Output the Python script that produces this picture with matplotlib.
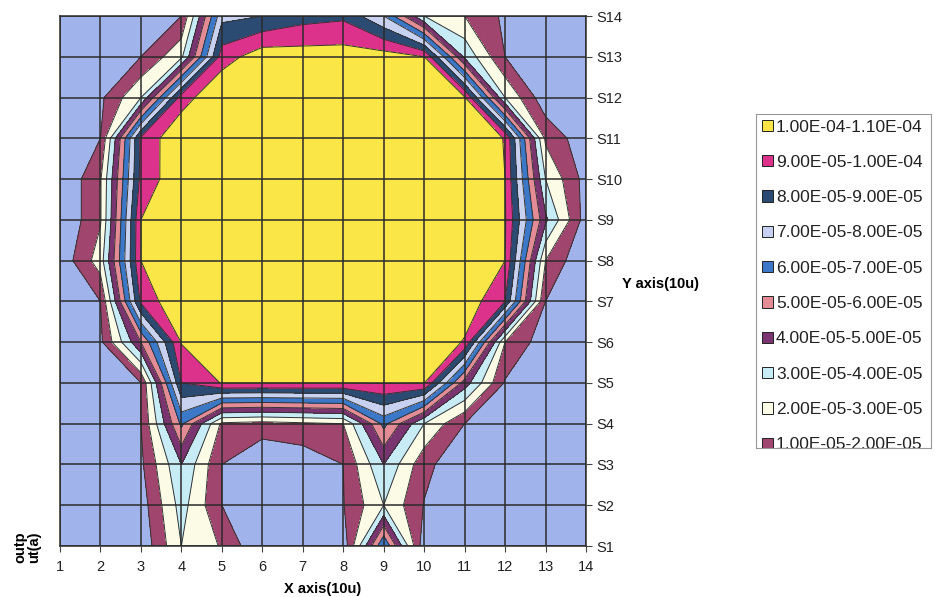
import numpy as np
import matplotlib
matplotlib.use("Agg")
import matplotlib.pyplot as plt
from matplotlib.patches import Patch

plt.rcParams['font.family'] = ['Liberation Sans', 'DejaVu Sans']

# grid positions (x axis 1..14) and series names (S1..S14)
x_vals = list(range(1, 15))
series = ['S%d' % i for i in range(1, 15)]

# output(a) values, in units of 1e-5, one list per series
s1 = [0, 0, 0.25, 3.0, 1.9, 0, 0, 0.3, 7.0, 0.3, 0, 0, 0, 0]
s2 = [0, 0, 0.5, 3.4, 1.0, 0, 0, 0.95, 3.0, 0.95, 0, 0, 0, 0]
s3 = [0, 0, 0.8, 4.0, 1.0, 0, 0.3, 1.0, 4.0, 1.3, 0.2, 0, 0, 0]
s4 = [0, 0.1, 1.0, 6.2, 1.8, 1.6, 1.8, 2.0, 6.3, 3.0, 1.0, 0.2, 0, 0]
s5 = [0, 0.2, 1.0, 9.0, 10.05, 10.05, 10.05, 10.05, 10.05, 10.05, 4.5, 0.9, 0.2, 0]
s6 = [0, 0.8, 5.0, 10.05, 11, 11, 11, 11, 11, 11, 9.9, 2.0, 0.4, 0]
s7 = [0, 1.0, 9.2, 11, 11, 11, 11, 11, 11, 11, 10.7, 9.0, 1.0, 0]
s8 = [0.3, 2.5, 10.0, 11, 11, 11, 11, 11, 11, 11, 11, 10.0, 2.0, 0]
s9 = [0, 1.9, 10.0, 11, 11, 11, 11, 11, 11, 11, 11, 10.1, 4.2, 0.5]
s10 = [0, 1.9, 9.3, 10.8, 11, 11, 11, 11, 11, 11, 11, 10.0, 3.0, 0.6]
s11 = [0, 1.0, 9.2, 10.9, 11, 11, 11, 11, 11, 11, 10.8, 9.95, 1.8, 0.3]
s12 = [0.2, 0.8, 3.0, 9.5, 11, 11, 11, 11, 11, 10.8, 10.1, 3.0, 0.3, 0]
s13 = [0, 0.3, 1.0, 2.8, 9.5, 10.6, 10.5, 10.5, 10.5, 10.0, 3.8, 1.0, 0.2, 0]
s14 = [0, 0, 0.3, 1.0, 7.7, 8.0, 8.6, 8.8, 7.0, 3.0, 2.0, 0.8, 0, 0]

scale = 1e-5
z = np.array([s1, s2, s3, s4, s5, s6, s7, s8, s9, s10, s11, s12, s13, s14]) * scale
levels = np.arange(0, 12) * scale

# band colours, lowest band first (scanned Excel palette)
band_colors = ['#a0b4eb', '#a0466e', '#fbfbe6', '#c8ecf5', '#7a3470', '#e48c96',
               '#3c78c8', '#c8d2f0', '#2b4b73', '#dc328c', '#fae646']

fig = plt.figure(figsize=(9.43, 5.97), dpi=100)
ax = fig.add_axes([60 / 943, 51 / 597, 526 / 943, 530 / 597])

ax.contourf(x_vals, x_vals, z, levels=levels, colors=band_colors)
ax.contour(x_vals, x_vals, z, levels=levels[1:-1], colors='#333333', linewidths=0.7)

ax.set_xlim(1, 14)
ax.set_ylim(1, 14)
ax.set_xticks(x_vals)
ax.set_yticks(x_vals)
ax.set_yticklabels(series)
ax.yaxis.tick_right()
ax.grid(True, color='#2b2b2b', linewidth=1.1)
ax.set_axisbelow(False)
ax.tick_params(labelsize=10.5, length=4, color='#444444', labelcolor='#222222')
ax.tick_params(axis='x', pad=6)
for sp in ax.spines.values():
    sp.set_color('#2b2b2b')
    sp.set_linewidth(1.1)

ax.set_xlabel('X axis(10u)', fontsize=10.5, fontweight='bold', labelpad=6)
fig.text(660 / 943, 1 - 284 / 597, 'Y axis(10u)', ha='center', va='center',
         fontsize=10.5, fontweight='bold')
fig.text(27 / 943, 1 - 547 / 597, 'outp\nut(a)', ha='center', va='center',
         rotation=90, fontsize=10.5, fontweight='bold', linespacing=1.0)

# legend box, bottom entry cut off like the original
lax = fig.add_axes([756 / 943, 1 - 448 / 597, 175 / 943, 334 / 597])
lax.set_xticks([])
lax.set_yticks([])
for sp in lax.spines.values():
    sp.set_color('#999999')
    sp.set_linewidth(0.8)

handles = []
labels = []
for b in range(len(band_colors) - 1, 0, -1):
    handles.append(Patch(facecolor=band_colors[b], edgecolor='#222222', linewidth=0.7))
    labels.append('%.2E-%.2E' % (levels[b], levels[b + 1]))
leg = lax.legend(handles, labels, loc='upper left', bbox_to_anchor=(6 / 175, 1 - 5.5 / 334),
                 frameon=False, fontsize=12.5, handlelength=0.63, handleheight=0.63,
                 handletextpad=0.17, labelspacing=1.17, borderaxespad=0, borderpad=0)
for t in leg.get_texts():
    t.set_color('#222222')
    t.set_clip_box(lax.bbox)
    t.set_clip_on(True)
for p in leg.get_patches():
    p.set_clip_box(lax.bbox)
    p.set_clip_on(True)

fig.savefig('out.png', dpi=100)
